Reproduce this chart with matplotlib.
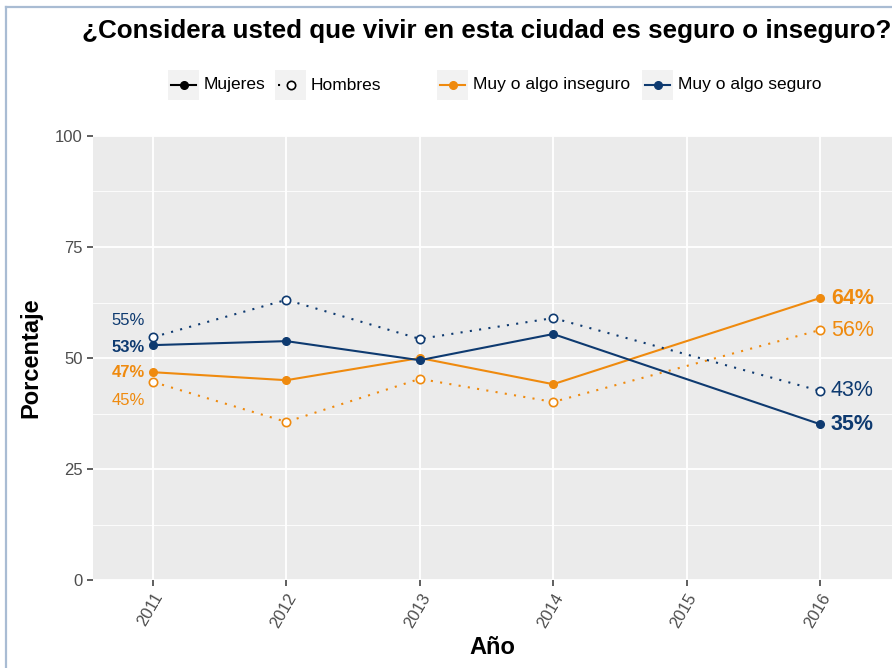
import matplotlib
matplotlib.use("Agg")
import matplotlib.pyplot as plt
from matplotlib.lines import Line2D
from matplotlib.patches import Rectangle

plt.rcParams["font.family"] = ["Liberation Sans", "DejaVu Sans"]

ORANGE = "#EF8A0E"
BLUE = "#0E3A70"
GRAY_TXT = "#4D4D4D"

years = [2011, 2012, 2013, 2014, 2016]
inseguro_mujeres = [46.8, 45.0, 50.0, 44.1, 63.5]
inseguro_hombres = [44.6, 35.6, 45.3, 40.1, 56.3]
seguro_mujeres = [52.9, 53.8, 49.5, 55.4, 35.1]
seguro_hombres = [54.7, 63.1, 54.3, 59.0, 42.6]
year_ticks = [2011, 2012, 2013, 2014, 2015, 2016]

W, H = 892, 668
fig = plt.figure(figsize=(W / 100, H / 100), dpi=100)
ax = fig.add_axes([93 / W, 1 - 580 / H, (W - 93) / W, (580 - 136) / H])
ax.set_facecolor("#EBEBEB")
for s in ax.spines.values():
    s.set_visible(False)

ax.set_xlim(2010.55, 2016.54)
ax.set_ylim(0, 100)
ax.set_yticks([0, 25, 50, 75, 100])
ax.set_yticks([12.5, 37.5, 62.5, 87.5], minor=True)
ax.set_xticks(year_ticks)
ax.grid(which="major", color="white", linewidth=1.3)
ax.grid(which="minor", axis="y", color="white", linewidth=0.6)
ax.tick_params(which="minor", length=0)
ax.tick_params(which="major", color="#333333", length=4, width=1.1,
               labelsize=12, labelcolor=GRAY_TXT)
ax.set_axisbelow(True)
for lab in ax.get_xticklabels():
    lab.set_rotation(60)
    lab.set_ha("right")
    lab.set_rotation_mode("anchor")

ax.plot(years, inseguro_mujeres, color=ORANGE, lw=1.5, marker="o", ms=5.5)
ax.plot(years, seguro_mujeres, color=BLUE, lw=1.5, marker="o", ms=5.5)
ax.plot(years, inseguro_hombres, color=ORANGE, lw=1.5, ls=(0, (1, 3.5)),
        marker="o", ms=6, mfc="white", mew=1.2)
ax.plot(years, seguro_hombres, color=BLUE, lw=1.5, ls=(0, (1, 3.5)),
        marker="o", ms=6, mfc="white", mew=1.2)

# left labels (2011)
left = [
    (seguro_hombres[0], 55, BLUE, "normal", 17),
    (seguro_mujeres[0], 53, BLUE, "bold", -2),
    (inseguro_mujeres[0], 47, ORANGE, "bold", 0),
    (inseguro_hombres[0], 45, ORANGE, "normal", -19),
]
for yv, val, col, wt, dy in left:
    ax.annotate(f"{val}%", (years[0], yv), xytext=(-8, dy), textcoords="offset pixels",
                ha="right", va="center", color=col, fontsize=12, fontweight=wt)

# right labels (2016)
right = [
    (inseguro_mujeres[-1], 64, ORANGE, "bold"),
    (inseguro_hombres[-1], 56, ORANGE, "normal"),
    (seguro_hombres[-1], 43, BLUE, "normal"),
    (seguro_mujeres[-1], 35, BLUE, "bold"),
]
for yv, val, col, wt in right:
    ax.annotate(f"{val}%", (years[-1], yv), xytext=(11, 0), textcoords="offset pixels",
                ha="left", va="center", color=col, fontsize=15.5, fontweight=wt)

ax.set_ylabel("Porcentaje", fontsize=17, fontweight="bold", labelpad=9)
ax.set_xlabel("Año", fontsize=17, fontweight="bold", labelpad=4)

fig.text(82 / W, 1 - 31 / H, "¿Considera usted que vivir en esta ciudad es seguro o inseguro?",
         ha="left", va="center", fontsize=18.7, fontweight="bold")


# manual legend
def legend_key(x0, color, dotted, label):
    kw = 31
    fig.add_artist(Rectangle((x0 / W, 1 - 100 / H), kw / W, 30 / H,
                             transform=fig.transFigure, color="#F2F2F2", lw=0))
    yk = 1 - 85 / H
    if dotted:
        fig.add_artist(Line2D([(x0 + 3) / W, (x0 + kw - 3) / W], [yk, yk],
                              transform=fig.transFigure, color=color, lw=1.5,
                              ls=(0, (1, 6.5))))
        fig.add_artist(Line2D([(x0 + kw / 2) / W], [yk], transform=fig.transFigure,
                              marker="o", ms=6, mfc="white", mec=color, mew=1.2, ls=""))
    else:
        fig.add_artist(Line2D([(x0 + 3) / W, (x0 + kw - 3) / W], [yk, yk],
                              transform=fig.transFigure, color=color, lw=1.5))
        fig.add_artist(Line2D([(x0 + kw / 2) / W], [yk], transform=fig.transFigure,
                              marker="o", ms=5.5, color=color, ls=""))
    fig.text((x0 + kw + 5) / W, yk, label, ha="left", va="center", fontsize=12.5)


legend_key(168, "black", False, "Mujeres")
legend_key(275, "black", True, "Hombres")
legend_key(437, ORANGE, False, "Muy o algo inseguro")
legend_key(642, BLUE, False, "Muy o algo seguro")

# thin frame at top/left
fig.add_artist(Line2D([5.5 / W, 5.5 / W], [0, 1 - 6.5 / H], transform=fig.transFigure,
                      color="#A9BCD3", lw=1.6))
fig.add_artist(Line2D([5.5 / W, 1], [1 - 6.5 / H, 1 - 6.5 / H], transform=fig.transFigure,
                      color="#A9BCD3", lw=1.6))

fig.savefig("out.png", dpi=100)
